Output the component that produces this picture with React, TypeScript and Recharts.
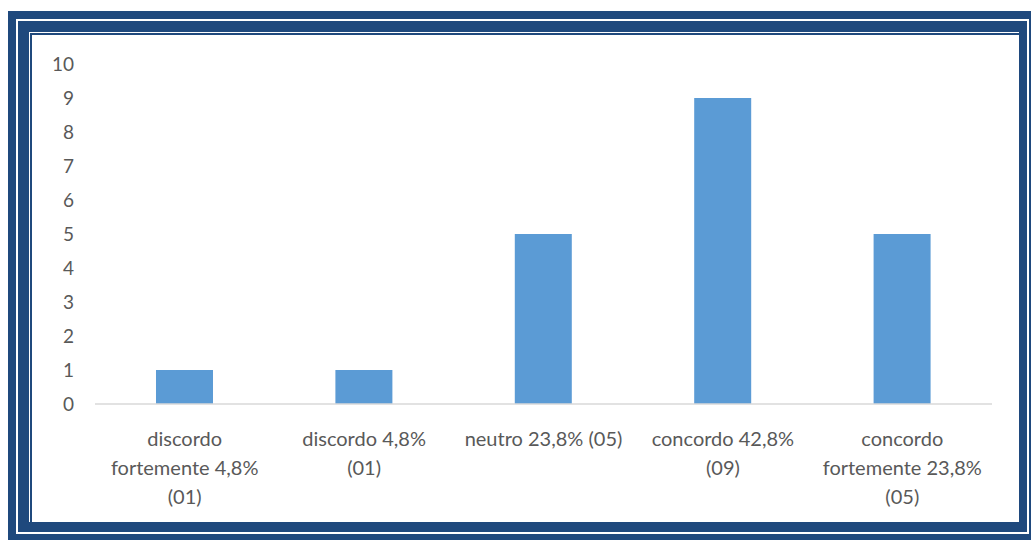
import React from 'react';
import { BarChart, Bar, XAxis, YAxis } from 'recharts';

// answer categories (line breaks as in the original labels)
const categories = [
  'discordo\nfortemente 4,8%\n(01)',
  'discordo 4,8%\n(01)',
  'neutro 23,8% (05)',
  'concordo 42,8%\n(09)',
  'concordo\nfortemente 23,8%\n(05)'
];
const counts = [1, 1, 5, 9, 5];
const yTicks = [0, 1, 2, 3, 4, 5, 6, 7, 8, 9, 10];

const chartData = categories.map((name, i) => ({ name, value: counts[i] }));

const NAVY = '#1F497D';
const FONT = 'Lato, "Open Sans", sans-serif';

const CategoryTick = ({ x, y, payload }: any) => {
  const lines = String(payload.value).split('\n');
  return (
    <text x={x} y={y} textAnchor="middle" fill="#595959" fontSize={20} fontFamily={FONT}>
      {lines.map((line, i) => (
        <tspan key={i} x={x} dy={i === 0 ? 34 : 29}>
          {line}
        </tspan>
      ))}
    </text>
  );
};

const box = (left: number, top: number, right: number, bottom: number, color: string): React.CSSProperties => ({
  position: 'absolute',
  left,
  top,
  width: right - left,
  height: bottom - top,
  background: color
});

const App: React.FC = () => {
  return (
    <div style={{ position: 'absolute', left: 0, top: 0, width: 1031, height: 540, overflow: 'hidden', background: '#fff' }}>
      {/* page border frame */}
      <div style={box(8, 11, 1031, 540, NAVY)} />
      <div style={box(16, 19, 1029, 534, '#fff')} />
      <div style={box(18, 21, 1027, 532, NAVY)} />
      <div style={box(29, 32, 1019, 522, '#fff')} />
      <div style={box(30, 33, 1019, 522, NAVY)} />
      <div style={box(32, 35, 1019, 522, '#fff')} />

      <div style={{ position: 'absolute', left: 0, top: 0 }}>
        <BarChart
          width={1031}
          height={540}
          data={chartData}
          margin={{ top: 64, right: 39, bottom: 0, left: 0 }}
          barCategoryGap="34%"
        >
          <XAxis
            dataKey="name"
            interval={0}
            tickLine={false}
            axisLine={{ stroke: '#D9D9D9', strokeWidth: 1.5 }}
            tick={<CategoryTick />}
            height={136}
          />
          <YAxis
            width={95}
            domain={[0, 10]}
            ticks={yTicks}
            interval={0}
            axisLine={false}
            tickLine={false}
            tickSize={0}
            tickMargin={21}
            tick={{ fill: '#595959', fontSize: 19, fontFamily: FONT }}
          />
          <Bar dataKey="value" fill="#5B9BD5" isAnimationActive={false} />
        </BarChart>
      </div>
    </div>
  );
};

export default App;
